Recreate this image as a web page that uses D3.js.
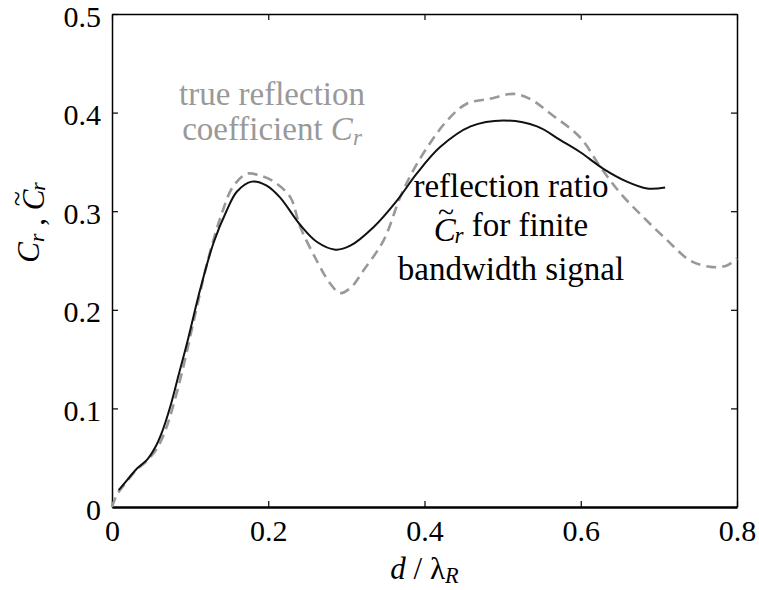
<!DOCTYPE html>
<html>
<head>
<meta charset="utf-8">
<script src="https://cdn.jsdelivr.net/npm/d3@7"></script>
<style>
  body { margin: 0; background: #fff; }
  svg, svg text { font-family: "Liberation Serif", "DejaVu Serif", "Noto Serif", serif; }
</style>
</head>
<body>
<svg class="chart" width="759" height="590"></svg>
<script>
// finite bandwidth ratio (solid black)
var dSolid = [0.0085, 0.019, 0.032, 0.045, 0.055, 0.064, 0.075, 0.085, 0.096, 0.113, 0.130, 0.147, 0.160, 0.179, 0.198, 0.215, 0.241, 0.262, 0.286, 0.305, 0.335, 0.365, 0.390, 0.420, 0.459, 0.501, 0.544, 0.574, 0.599, 0.629, 0.659, 0.685, 0.708]
var cSolid = [0.017, 0.027, 0.039, 0.048, 0.060, 0.076, 0.103, 0.133, 0.166, 0.221, 0.268, 0.301, 0.320, 0.330, 0.326, 0.314, 0.286, 0.269, 0.261, 0.265, 0.284, 0.311, 0.338, 0.365, 0.386, 0.392, 0.386, 0.372, 0.360, 0.343, 0.330, 0.323, 0.324]

// true reflection coefficient (grey dashed)
var dDash = [0, 0.006, 0.019, 0.032, 0.045, 0.058, 0.068, 0.077, 0.090, 0.105, 0.122, 0.139, 0.155, 0.173, 0.190, 0.207, 0.228, 0.241, 0.262, 0.279, 0.292, 0.305, 0.322, 0.348, 0.369, 0.386, 0.407, 0.429, 0.454, 0.484, 0.514, 0.535, 0.561, 0.599, 0.625, 0.651, 0.680, 0.710, 0.740, 0.766, 0.787, 0.800]
var cDash = [0, 0.012, 0.026, 0.038, 0.047, 0.060, 0.077, 0.099, 0.138, 0.190, 0.248, 0.294, 0.325, 0.338, 0.336, 0.330, 0.3145, 0.284, 0.250, 0.227, 0.217, 0.222, 0.240, 0.271, 0.3145, 0.342, 0.369, 0.392, 0.409, 0.414, 0.419, 0.414, 0.399, 0.375, 0.345, 0.318, 0.294, 0.271, 0.250, 0.2435, 0.245, 0.252]

var xTicks = [0, 0.2, 0.4, 0.6, 0.8]
var yTicks = [0, 0.1, 0.2, 0.3, 0.4, 0.5]

var chart = d3.select(".chart"),
    margin = {top: 14, right: 22, bottom: 83, left: 112},
    width = 759 - margin.left - margin.right,
    height = 590 - margin.top - margin.bottom

var x = d3.scaleLinear().domain([0, 0.8]).range([0, width])
var y = d3.scaleLinear().domain([0, 0.5]).range([height, 0])

var fmt = function(d) { return d === 0 ? "0" : d.toFixed(1) }
var serif = "'Liberation Serif', 'DejaVu Serif', 'Noto Serif', serif"

var g = chart.append("g")
  .attr("transform", "translate(" + margin.left + "," + margin.top + ")")

// box + inward ticks on all sides
var xAxis = g.append("g")
  .attr("transform", "translate(0," + height + ")")
  .call(d3.axisBottom(x).tickValues(xTicks).tickSize(-6).tickSizeOuter(0).tickPadding(13).tickFormat(fmt))

g.append("g")
  .call(d3.axisTop(x).tickValues(xTicks).tickSize(-6).tickSizeOuter(0).tickFormat(""))

var yAxis = g.append("g")
  .call(d3.axisLeft(y).tickValues(yTicks).tickSize(-6).tickSizeOuter(0).tickPadding(11).tickFormat(fmt))

g.append("g")
  .attr("transform", "translate(" + width + ",0)")
  .call(d3.axisRight(y).tickValues(yTicks).tickSize(-6).tickSizeOuter(0).tickFormat(""))

g.selectAll(".domain").attr("stroke", "#000").attr("stroke-width", 1.5)
xAxis.select(".domain").attr("stroke-width", 2.5)
g.selectAll(".tick line").attr("stroke", "#000").attr("stroke-width", 1.2)
g.selectAll(".tick text")
  .attr("fill", "#000")
  .style("font-family", serif)
  .style("font-size", "30px")
yAxis.selectAll(".tick text").attr("dy", "0.4em")

// curves
var line = d3.line()
  .x(function(d) { return x(d[0]) })
  .y(function(d) { return y(d[1]) })
  .curve(d3.curveCatmullRom.alpha(0.5))

g.append("path")
  .datum(d3.zip(dDash, cDash))
  .attr("fill", "none")
  .attr("stroke", "#999")
  .attr("stroke-width", 2.6)
  .attr("stroke-dasharray", "10,6")
  .attr("d", line)

g.append("path")
  .datum(d3.zip(dSolid, cSolid))
  .attr("fill", "none")
  .attr("stroke", "#111")
  .attr("stroke-width", 2)
  .attr("d", line)

// C_r with optional tilde
function crText(sel, tilde) {
  sel.append("tspan").style("font-style", "italic").text("C")
  if (tilde) {
    sel.append("tspan").attr("dx", "-0.6em").attr("dy", "-0.64em").style("font-size", "0.9em").text("~")
    sel.append("tspan").attr("dx", "0.02em").attr("dy", "0.9em").style("font-style", "italic").style("font-size", "0.7em").text("r")
    sel.append("tspan").attr("dy", "-0.2em").text("")
  } else {
    sel.append("tspan").attr("dy", "0.22em").style("font-style", "italic").style("font-size", "0.7em").text("r")
    sel.append("tspan").attr("dy", "-0.22em").text("")
  }
}

// annotations
var grey = g.append("g").attr("fill", "#999").style("font-family", serif).style("font-size", "33px")
grey.append("text").attr("x", 160).attr("y", 91).attr("text-anchor", "middle").text("true reflection")
var t2 = grey.append("text").attr("x", 160).attr("y", 126).attr("text-anchor", "middle")
t2.append("tspan").text("coefficient ")
crText(t2, false)

var blk = g.append("g").attr("fill", "#000").style("font-family", serif).style("font-size", "33px")
blk.append("text").attr("x", 399).attr("y", 183).attr("text-anchor", "middle").text("reflection ratio")
var t4 = blk.append("text").attr("x", 399).attr("y", 227).attr("text-anchor", "middle")
crText(t4, true)
t4.append("tspan").attr("dy", "-0.22em").text(" for  finite")
blk.append("text").attr("x", 399).attr("y", 266).attr("text-anchor", "middle").text("bandwidth signal")

// axis labels
var xl = g.append("text")
  .attr("x", width / 2).attr("y", height + 72)
  .attr("text-anchor", "middle")
  .style("font-family", serif)
  .style("font-size", "31px")
xl.append("tspan").style("font-style", "italic").text("d")
xl.append("tspan").text(" / \u03bb")
xl.append("tspan").attr("dy", "0.2em").style("font-style", "italic").style("font-size", "0.72em").text("R")

var yl = g.append("text")
  .attr("transform", "translate(-73," + (height / 2 - 38) + ") rotate(-90)")
  .attr("text-anchor", "middle")
  .style("font-family", serif)
  .style("font-size", "31px")
crText(yl, false)
yl.append("tspan").text(" , ")
crText(yl, true)
</script>
</body>
</html>
